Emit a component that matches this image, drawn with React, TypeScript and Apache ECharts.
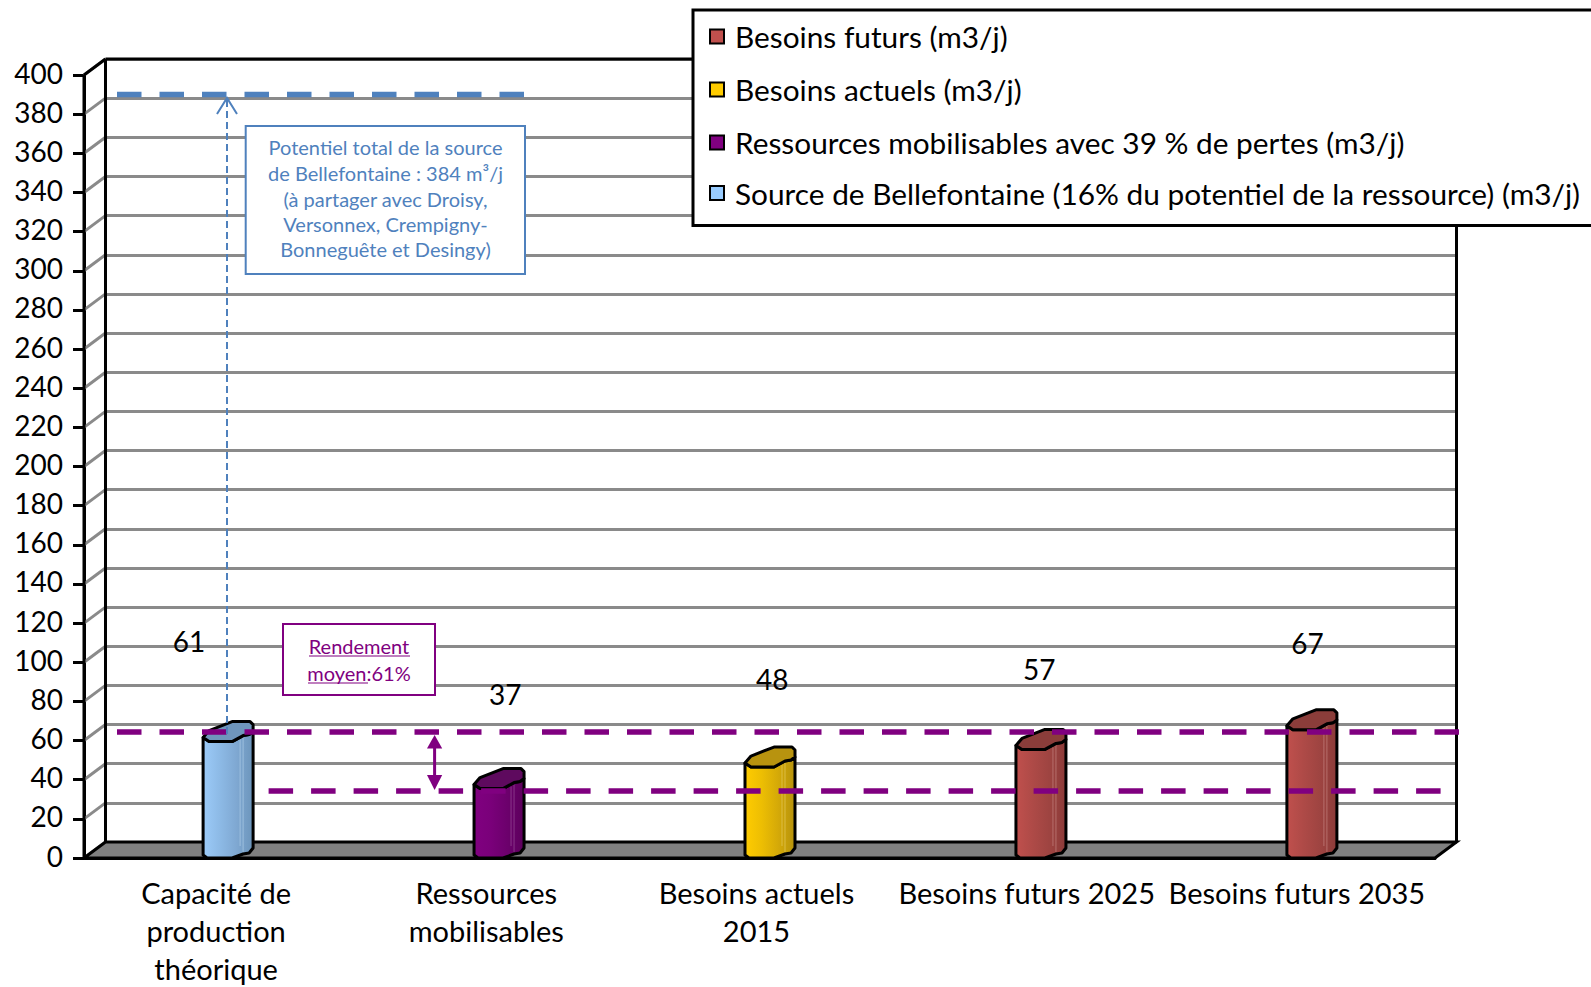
import React, { useEffect, useRef } from "react";
import * as echarts from "echarts";

const categories = [
  "Capacité de\nproduction\nthéorique",
  "Ressources\nmobilisables",
  "Besoins actuels\n2015",
  "Besoins futurs 2025",
  "Besoins futurs 2035",
];
const sourceValues = [61, null, null, null, null];
const ressourcesValues = [null, 37, null, null, null];
const actuelsValues = [null, null, 48, null, null];
const futursValues = [null, null, null, 57, 67];
const yTicks = [0, 20, 40, 60, 80, 100, 120, 140, 160, 180, 200, 220, 240, 260, 280, 300, 320, 340, 360, 380, 400];
const potentielLevel = [390];
const rendementLevels = [64.4, 34.2];
const legendNames = [
  "Besoins futurs (m3/j)",
  "Besoins actuels (m3/j)",
  "Ressources mobilisables avec 39 % de pertes (m3/j)",
  "Source de Bellefontaine (16% du potentiel de la ressource) (m3/j)",
];
const potentielText = [
  "Potentiel total de la source",
  "de Bellefontaine : 384 m³/j",
  "(à partager avec Droisy,",
  "Versonnex, Crempigny-",
  "Bonneguête et Desingy)",
];
const labelNudges = [
  [-30, -98],
  [16, -92],
  [12.7, -85],
  [9.5, -77],
  [7.5, -83.5],
];

const FONT = "Lato, 'Noto Sans', sans-serif";
const BLUE = "#4F81BD";
const PURPLE = "#800080";
const DX = 21.5;
const DY = -16;

const palettes: Record<string, { stops: string[]; top: string; hi: string; legend: string }> = {
  source: { stops: ["#9CCBF9", "#8DBAE6", "#7FA8D2", "#6C95BB"], top: "#6F96BC", hi: "#B5D2EC", legend: "#99CCFF" },
  ressources: { stops: ["#800080", "#7A007A", "#6C006C", "#5C005C"], top: "#5E0A5E", hi: "#A05AA0", legend: "#800080" },
  actuels: { stops: ["#FFCC00", "#EDBE03", "#D4A908", "#B6920C"], top: "#B8930F", hi: "#E8CF6A", legend: "#FFCC00" },
  futurs: { stops: ["#C0504D", "#AE4A47", "#9E4441", "#8C3B39"], top: "#8B3D3A", hi: "#CC8C8A", legend: "#C0504D" },
};

function pairs(values: (number | null)[]) {
  const out: number[][] = [];
  values.forEach((v, i) => {
    if (v !== null) out.push([i, v]);
  });
  return out;
}

function barRenderer(key: string) {
  const pal = palettes[key];
  return (_params: any, api: any) => {
    const idx = api.value(0);
    const value = api.value(1);
    const [cx, y] = api.coord([idx, value]);
    const [, base] = api.coord([idx, 0]);
    const x = cx - 16 + 0.75 * idx;
    const ty = y + 3;
    const by = base;
    const stroke = { stroke: "#000", lineWidth: 3, lineJoin: "round" };
    const body = [
      [x, ty - 4], [x + 6, ty], [x + 29, ty], [x + 40, ty - 6], [x + 46, ty - 7], [x + 50, ty - 10],
      [x + 50, by - 10], [x + 46, by - 5], [x + 40, by - 4], [x + 29, by], [x + 4, by], [x, by - 3],
    ];
    const top = [
      [x, ty - 4], [x + 6, ty - 11], [x + 29, ty - 20], [x + 47, ty - 20], [x + 50, ty - 17], [x + 50, ty - 10],
      [x + 46, ty - 7], [x + 40, ty - 6], [x + 29, ty], [x + 6, ty],
    ];
    const [nx, ny] = labelNudges[idx];
    return {
      type: "group",
      children: [
        {
          type: "polygon",
          shape: { points: body },
          style: {
            ...stroke,
            fill: {
              type: "linear", x: 0, y: 0, x2: 1, y2: 0,
              colorStops: pal.stops.map((c, i) => ({ offset: i / (pal.stops.length - 1), color: c })),
            },
          },
        },
        {
          type: "line",
          shape: { x1: x + 37, y1: ty - 2, x2: x + 37, y2: by - 12 },
          style: { stroke: pal.hi, lineWidth: 1, opacity: 0.6 },
        },
        {
          type: "line",
          shape: { x1: x + 40, y1: ty - 4, x2: x + 40, y2: by - 6 },
          style: { stroke: pal.hi, lineWidth: 1, opacity: 0.6 },
        },
        { type: "polygon", shape: { points: top }, style: { ...stroke, fill: pal.top } },
        {
          type: "text",
          x: cx + nx,
          y: y + ny,
          style: { text: String(value), fontFamily: FONT, fontSize: 28, fill: "#000", align: "center", verticalAlign: "middle" },
        },
      ],
    };
  };
}

function barSeries(name: string, key: string, values: (number | null)[]) {
  return {
    type: "custom",
    name,
    xAxisIndex: 0,
    yAxisIndex: 0,
    z: 3,
    clip: false,
    encode: { x: 0, y: 1 },
    itemStyle: { color: palettes[key].legend },
    data: pairs(values),
    renderItem: barRenderer(key),
  };
}

function legendFor(name: string, key: string, center: number) {
  return {
    data: [{ name, icon: "rect", itemStyle: { color: palettes[key].legend, borderColor: "#000", borderWidth: 2 } }],
    left: 709,
    top: center - 18,
    padding: 0,
    itemWidth: 14,
    itemHeight: 14,
    z: 7,
    selectedMode: false,
    textStyle: { fontFamily: FONT, fontSize: 29.8, color: "#000", lineHeight: 36, padding: [0, 0, 0, 6] },
  };
}

export default function App() {
  const ref = useRef<HTMLDivElement>(null);
  useEffect(() => {
    document.body.style.margin = "0";
    const chart = echarts.init(ref.current!, undefined, { renderer: "svg" });
    const blackLine = { color: "#000", width: 3 };
    chart.setOption({
      animation: false,
      backgroundColor: "#fff",
      grid: [
        { left: 84, right: 156, top: 75, bottom: 129, outerBoundsMode: "none" },
        { left: 105.5, right: 134, top: 59, bottom: 145, outerBoundsMode: "none" },
      ],
      xAxis: [
        {
          type: "category",
          gridIndex: 0,
          data: categories,
          axisLine: { lineStyle: blackLine },
          axisTick: { length: 11, lineStyle: blackLine },
          axisLabel: { fontFamily: FONT, fontSize: 29, color: "#000", interval: 0, margin: 15, lineHeight: 38, padding: [0, 6, 0, 0], hideOverlap: false },
        },
        { type: "category", gridIndex: 1, data: categories, show: false },
      ],
      yAxis: [
        {
          type: "value",
          gridIndex: 0,
          min: 0,
          max: 400,
          interval: 20,
          axisLine: { show: true, lineStyle: blackLine },
          axisTick: { show: true, length: 11, lineStyle: blackLine },
          axisLabel: { fontFamily: FONT, fontSize: 28, color: "#000", margin: 21, verticalAlign: "bottom", lineHeight: 5 },
          splitLine: { show: false },
        },
        {
          type: "value",
          gridIndex: 1,
          min: 0,
          max: 400,
          interval: 20,
          axisLine: { show: false },
          axisTick: { show: false },
          axisLabel: { show: false },
          splitLine: { show: true, lineStyle: { color: "#8A8A8A", width: 3 } },
        },
      ],
      legend: [
        legendFor(legendNames[0], "futurs", 36.5),
        legendFor(legendNames[1], "actuels", 89.5),
        legendFor(legendNames[2], "ressources", 142.5),
        legendFor(legendNames[3], "source", 193),
      ],
      series: [
        {
          type: "custom",
          xAxisIndex: 0,
          yAxisIndex: 0,
          z: 1,
          silent: true,
          clip: false,
          encode: { y: 0 },
          data: yTicks.map((t) => [t]),
          renderItem: (_p: any, api: any) => {
            const [x, y] = api.coord([0, api.value(0)]);
            const left = x - 135.1;
            return {
              type: "line",
              shape: { x1: left, y1: y, x2: left + DX, y2: y + DY },
              style: { stroke: "#8A8A8A", lineWidth: 3 },
            };
          },
        },
        {
          type: "custom",
          xAxisIndex: 0,
          yAxisIndex: 0,
          z: 2,
          silent: true,
          clip: false,
          encode: { x: 0, y: 1 },
          data: [[0, 0]],
          renderItem: (_p: any, api: any) => {
            const [xa, y0] = api.coord([0, 0]);
            const [xb] = api.coord([4, 0]);
            const [, y400] = api.coord([0, 400]);
            const l = xa - 135.1;
            const r = xb + 135.1;
            const frame = { stroke: "#000", lineWidth: 3 };
            const line = (x1: number, y1: number, x2: number, y2: number) => ({
              type: "line",
              shape: { x1, y1, x2, y2 },
              style: frame,
            });
            return {
              type: "group",
              children: [
                {
                  type: "polygon",
                  shape: { points: [[l, y0], [l + DX, y0 + DY], [r + DX, y0 + DY], [r, y0]] },
                  style: { fill: "#808080", ...frame },
                },
                line(l, y0, l, y400),
                line(l, y400, l + DX, y400 + DY),
                line(l + DX, y400 + DY, l + DX, y0 + DY),
                line(l + DX, y400 + DY, r + DX, y400 + DY),
                line(r + DX, y400 + DY, r + DX, y0 + DY),
              ],
            };
          },
        },
        barSeries(legendNames[0], "futurs", futursValues),
        barSeries(legendNames[1], "actuels", actuelsValues),
        barSeries(legendNames[2], "ressources", ressourcesValues),
        barSeries(legendNames[3], "source", sourceValues),
        {
          type: "custom",
          xAxisIndex: 0,
          yAxisIndex: 0,
          z: 4,
          silent: true,
          clip: false,
          encode: { y: 0 },
          data: [...rendementLevels, ...potentielLevel].map((v) => [v]),
          renderItem: (p: any, api: any) => {
            const [, y] = api.coord([0, api.value(0)]);
            const extents = [[117, 1461], [268.6, 1443], [117, 524]];
            const [x1, x2] = extents[p.dataIndex];
            return {
              type: "line",
              shape: { x1, y1: y, x2, y2: y },
              style: {
                stroke: p.dataIndex === 2 ? BLUE : PURPLE,
                lineWidth: 5.5,
                lineDash: [24.5, 18],
              },
            };
          },
        },
      ],
      graphic: [
        { type: "rect", z: 5, shape: { x: 693, y: 10, width: 905, height: 215.5 }, style: { fill: "#fff", stroke: "#000", lineWidth: 3 } },
        { type: "rect", z: 5, shape: { x: 245.7, y: 126, width: 279.3, height: 148 }, style: { fill: "#fff", stroke: BLUE, lineWidth: 2 } },
        ...potentielText.map((text, i) => ({
          type: "text",
          z: 6,
          x: 385.5,
          y: [147, 173, 199, 224, 249][i],
          style: { text, fontFamily: FONT, fontSize: 20, fill: BLUE, align: "center", verticalAlign: "middle" },
        })),
        { type: "line", z: 5, shape: { x1: 227, y1: 100, x2: 227, y2: 735 }, style: { stroke: BLUE, lineWidth: 2, lineDash: [7, 4] } },
        { type: "polyline", z: 5, shape: { points: [[217, 114], [227, 98], [237, 114]] }, style: { fill: "none", stroke: BLUE, lineWidth: 2 } },
        { type: "rect", z: 5, shape: { x: 283, y: 624, width: 152, height: 71 }, style: { fill: "#fff", stroke: PURPLE, lineWidth: 2 } },
        { type: "text", z: 6, x: 359, y: 646, style: { text: "Rendement", fontFamily: FONT, fontSize: 20, fill: PURPLE, align: "center", verticalAlign: "middle" } },
        { type: "text", z: 6, x: 359, y: 673, style: { text: "moyen:61%", fontFamily: FONT, fontSize: 20, fill: PURPLE, align: "center", verticalAlign: "middle" } },
        { type: "line", z: 6, shape: { x1: 309, y1: 656, x2: 410, y2: 656 }, style: { stroke: PURPLE, lineWidth: 1.2 } },
        { type: "line", z: 6, shape: { x1: 308, y1: 683, x2: 368, y2: 683 }, style: { stroke: PURPLE, lineWidth: 1.2 } },
        { type: "line", z: 5, shape: { x1: 434.6, y1: 745, x2: 434.6, y2: 778 }, style: { stroke: PURPLE, lineWidth: 3 } },
        { type: "polygon", z: 5, shape: { points: [[434.6, 735], [427, 748.5], [442.2, 748.5]] }, style: { fill: PURPLE } },
        { type: "polygon", z: 5, shape: { points: [[434.6, 790], [427, 775], [442.2, 775]] }, style: { fill: PURPLE } },
      ],
    });
    return () => chart.dispose();
  }, []);
  return <div ref={ref} style={{ width: 1591, height: 987 }} />;
}
